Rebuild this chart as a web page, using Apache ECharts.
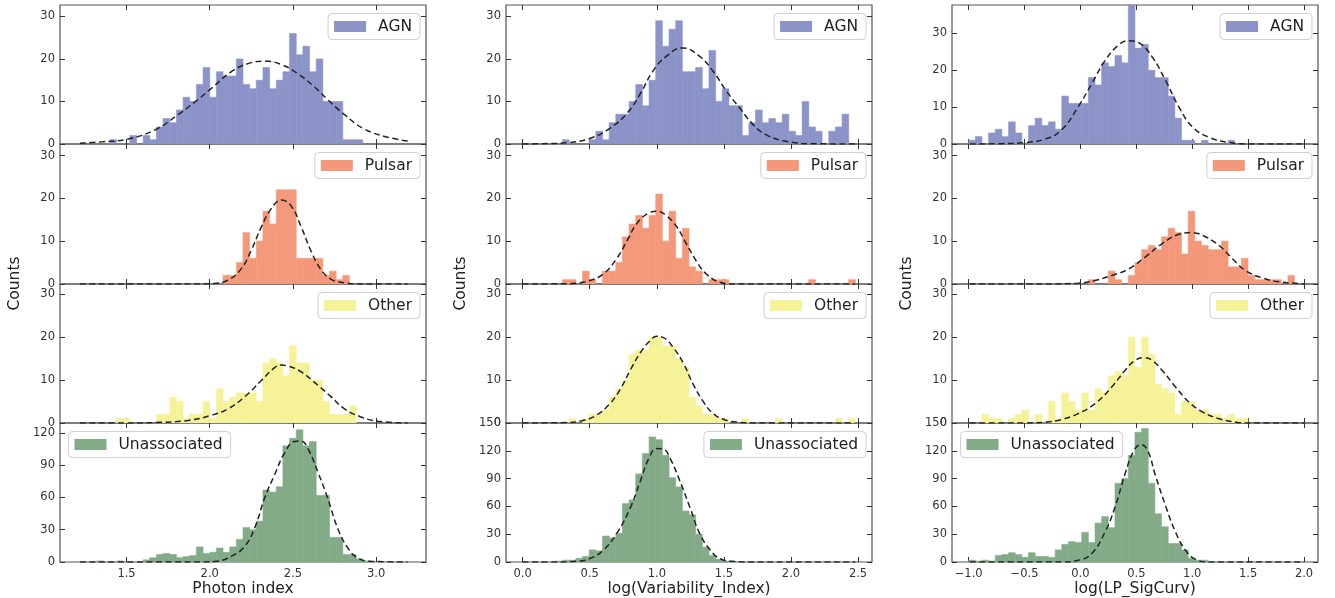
<!DOCTYPE html>
<html><head><meta charset="utf-8">
<script src="https://cdn.jsdelivr.net/npm/echarts@6/dist/echarts.min.js"></script>
<style>html,body{margin:0;padding:0;background:#fff}#c{width:1335px;height:598px}</style>
</head><body><div id="c"></div>
<script>
// ---------------- DATA ----------------
const classes = ['AGN', 'Pulsar', 'Other', 'Unassociated'];
const xNames = ['Photon index', 'log(Variability_Index)', 'log(LP_SigCurv)'];

// histogram bins (start, width; 50 bins each)
const photonBinStart = 1.2,  photonBinWidth = 0.04;
const varBinStart = 0.0,     varBinWidth = 0.0496;
const curvBinStart = -1.0,   curvBinWidth = 0.0595;

// tick labels
const photonTicks = [1.5, 2.0, 2.5, 3.0];
const varTicks = [0.0, 0.5, 1.0, 1.5, 2.0, 2.5];
const curvTicks = [-1.0, -0.5, 0.0, 0.5, 1.0, 1.5, 2.0];
const countTicksSmall = [0, 10, 20, 30];
const countTicks120 = [0, 30, 60, 90, 120];
const countTicks150 = [0, 30, 60, 90, 120, 150];

// counts per bin — Photon index
const photonAGN = [0,0,0,0,0,1,0,0,2,0, 2,1,4,6,5,8,11,10,14,18, 11,17,16,16,20,14,13,15,18,13, 15,17,26,21,23,17,20,10,10,10, 1,1,1,0,0,0,0,0,0,0];
const photonPulsar = [0,0,0,0,0,0,0,0,0,0, 0,0,0,0,0,0,0,0,0,0, 0,0,2,2,5,12,6,10,17,14, 22,22,22,6,6,6,6,2,3,1, 2,0,0,0,0,0,0,0,0,0];
const photonOther = [0,0,0,0,0,0,1,1,0,0, 0,0,2,2,6,5,1,2,2,5, 1,8,5,6,7,7,7,5,14,15, 14,11,18,14,14,10,10,5,2,2, 2,4,0,0,0,0,0,0,0,0];
const photonUnassoc = [0,0,0,1,0,0,1,0,0,0, 2,4,7,8,7,4,5,6,14,8, 9,13,9,14,21,32,30,38,67,65, 70,108,115,123,108,112,62,62,23,23, 7,7,3,1,0,0,0,0,0,0];

// counts per bin — log(Variability_Index)
const varAGN = [0,0,0,0,0,0,1,0,0,0, 1,3,1,5,7,7,10,14,9,15, 29,23,27,29,17,17,18,13,22,10, 13,9,9,2,5,8,5,6,5,7, 3,2,10,4,3,0,3,4,7,0];
const varPulsar = [0,0,0,0,0,0,1,1,0,3, 1,0,3,3,5,11,14,16,13,16, 21,10,17,6,13,4,3,0,1,1, 1,0,0,0,0,0,0,0,0,0, 0,0,0,1,0,0,0,0,0,1];
const varOther = [0,0,0,0,0,0,0,1,0,1, 2,2,3,6,8,10,16,17,17,20, 20,18,18,15,13,6,4,2,2,1, 1,0,0,1,0,0,0,0,1,0, 0,0,0,0,0,0,0,1,0,1];
const varUnassoc = [0,0,0,0,0,1,2,2,4,6, 13,12,28,26,31,63,67,95,117,135, 132,115,91,81,55,51,30,16,7,3, 1,0,0,0,0,0,0,0,0,0, 0,0,0,0,0,0,0,0,0,0];

// counts per bin — log(LP_SigCurv)
const curvAGN = [1,2,0,3,4,2,6,3,0,5, 7,5,6,4,13,11,11,11,18,16, 22,21,24,22,40,26,27,20,18,18, 13,7,1,1,0,1,0,0,0,1, 0,0,0,0,0,0,0,0,0,0];
const curvPulsar = [0,0,0,0,0,0,0,0,0,0, 0,0,0,0,0,0,0,0,1,0, 0,3,1,0,2,5,8,9,8,11, 13,12,7,17,10,9,8,8,10,4, 4,6,2,1,1,1,1,0,2,0];
const curvOther = [0,0,2,1,1,0,1,2,3,0, 2,0,5,1,7,5,3,7,3,8, 7,11,12,11,20,13,20,16,9,8, 7,2,5,5,3,3,2,2,1,2, 1,1,0,0,0,0,0,0,0,0];
const curvUnassoc = [2,1,2,1,7,8,10,8,5,10, 6,6,5,13,19,22,21,32,21,42, 49,37,85,90,115,140,144,85,52,38, 20,20,13,4,2,2,0,0,0,0, 0,0,0,0,0,0,0,0,0,0];

// Gaussian-fit curves, points
const photonAGNFit = [[1.22,0.2],[1.35,0.5],[1.5,1.1],[1.67,3.3],[1.81,6.9],[1.93,10.5],[2.01,13.1],[2.13,17.0],[2.23,18.9],[2.33,19.5],[2.43,18.7],[2.53,16.5],[2.63,13.4],[2.71,10.4],[2.81,6.9],[2.93,3.5],[3.07,1.6],[3.19,0.7]];
const photonPulsarFit = [[1.22,0],[1.9,0],[2.01,0.1],[2.11,0.9],[2.19,3.6],[2.25,7.9],[2.31,13.3],[2.37,17.6],[2.43,19.6],[2.49,18.2],[2.55,13.3],[2.61,7.6],[2.67,3.3],[2.73,1.1],[2.81,0.3],[2.9,0],[3.19,0]];
const photonOtherFit = [[1.22,0],[1.5,0],[1.7,0.15],[1.87,0.6],[2.01,1.8],[2.11,3.3],[2.21,6.1],[2.31,9.9],[2.39,12.9],[2.43,13.5],[2.47,13.3],[2.55,11.9],[2.65,8.8],[2.73,6.1],[2.81,3.3],[2.91,1.4],[3.01,0.4],[3.19,0]];
const photonUnassocFit = [[1.22,0],[1.9,0],[2.03,0.5],[2.13,5.3],[2.21,14.6],[2.27,31.6],[2.33,59.5],[2.39,81.2],[2.45,101.4],[2.51,112.2],[2.55,112.5],[2.59,105.4],[2.65,83.7],[2.71,58.9],[2.77,31.0],[2.83,13.0],[2.89,3.7],[2.97,0.6],[3.19,0]];

const varAGNFit = [[0,0],[0.2,0.1],[0.33,0.3],[0.50,1.3],[0.65,3.7],[0.78,7.3],[0.88,12.0],[0.97,17.1],[1.07,20.6],[1.19,22.6],[1.32,20.6],[1.42,17.1],[1.52,12.4],[1.62,8.4],[1.72,4.5],[1.82,2.1],[1.97,0.6],[2.19,0.05],[2.48,0]];
const varPulsarFit = [[0,0],[0.3,0.05],[0.40,0.2],[0.50,0.8],[0.60,2.3],[0.70,5.9],[0.78,10.2],[0.85,14.1],[0.93,16.4],[1.0,17.0],[1.07,16.0],[1.15,13.3],[1.22,9.4],[1.30,5.1],[1.37,2.3],[1.47,0.4],[1.57,0],[2.48,0]];
const varOtherFit = [[0,0],[0.33,0.1],[0.45,0.6],[0.55,1.8],[0.65,4.5],[0.73,8.0],[0.80,12.2],[0.88,16.5],[0.95,19.2],[1.0,20.2],[1.05,19.9],[1.12,17.7],[1.20,13.8],[1.27,9.1],[1.35,4.8],[1.42,2.2],[1.50,0.8],[1.60,0.2],[1.75,0],[2.48,0]];
const varUnassocFit = [[0,0],[0.3,0.1],[0.40,0.7],[0.50,3.6],[0.60,12.6],[0.70,30.6],[0.80,57.6],[0.875,86.4],[0.94,111.6],[1.0,122.4],[1.05,121.7],[1.10,111.6],[1.17,88.2],[1.25,57.6],[1.32,30.6],[1.40,12.6],[1.47,3.6],[1.57,0.7],[1.7,0],[2.48,0]];

const curvAGNFit = [[-0.99,0],[-0.7,0.1],[-0.49,0.4],[-0.32,1.3],[-0.17,3.8],[-0.02,10.1],[0.10,16.3],[0.22,22.6],[0.34,26.8],[0.43,28.0],[0.52,27.5],[0.64,23.7],[0.76,17.3],[0.88,10.1],[1.0,4.7],[1.15,1.8],[1.33,0.4],[1.48,0],[2.0,0]];
const curvPulsarFit = [[-0.99,0],[-0.3,0],[-0.02,0.2],[0.13,0.8],[0.28,2.0],[0.43,3.5],[0.58,6.3],[0.73,9.4],[0.88,11.6],[0.99,12.0],[1.09,11.4],[1.24,9.0],[1.36,5.9],[1.48,3.1],[1.63,1.4],[1.78,0.5],[1.96,0.1],[2.0,0]];
const curvOtherFit = [[-0.99,0],[-0.5,0],[-0.32,0.2],[-0.17,0.8],[-0.02,2.2],[0.13,4.5],[0.28,8.4],[0.40,12.3],[0.49,14.6],[0.57,15.2],[0.64,14.6],[0.73,12.3],[0.85,8.4],[0.97,4.9],[1.09,2.6],[1.24,1.0],[1.39,0.2],[1.51,0],[2.0,0]];
const curvUnassocFit = [[-0.99,0],[-0.17,0],[-0.02,1.8],[0.10,9.0],[0.22,32.4],[0.31,59.4],[0.40,95.4],[0.48,120.6],[0.54,126.8],[0.60,120.6],[0.67,93.6],[0.76,61.2],[0.85,32.4],[0.94,12.6],[1.03,2.9],[1.15,0],[2.0,0]];

// ---------------- BUILD ----------------
const classColors = ['#8b93c8', '#f4987a', '#f6f298', '#83ab88'];
const FONT = 'DejaVu Sans';

const columns = [
  { binStart: photonBinStart, binWidth: photonBinWidth, xmin: 1.1, xmax: 3.3, ticks: photonTicks,
    counts: [photonAGN, photonPulsar, photonOther, photonUnassoc],
    fits: [photonAGNFit, photonPulsarFit, photonOtherFit, photonUnassocFit],
    ymax: [32.7, 32.7, 32.4, 129.3], yticks: [countTicksSmall, countTicksSmall, countTicksSmall, countTicks120],
    lastLegendLeft: true },
  { binStart: varBinStart, binWidth: varBinWidth, xmin: -0.124, xmax: 2.604, ticks: varTicks,
    counts: [varAGN, varPulsar, varOther, varUnassoc],
    fits: [varAGNFit, varPulsarFit, varOtherFit, varUnassocFit],
    ymax: [32.7, 32.7, 32.4, 150], yticks: [countTicksSmall, countTicksSmall, countTicksSmall, countTicks150],
    lastLegendLeft: false },
  { binStart: curvBinStart, binWidth: curvBinWidth, xmin: -1.149, xmax: 2.125, ticks: curvTicks,
    counts: [curvAGN, curvPulsar, curvOther, curvUnassoc],
    fits: [curvAGNFit, curvPulsarFit, curvOtherFit, curvUnassocFit],
    ymax: [37.7, 32.7, 32.4, 150], yticks: [countTicksSmall, countTicksSmall, countTicksSmall, countTicks150],
    lastLegendLeft: true }
];

const W = 1335;
const colLeft = [60, 506, 952], colW = 366;
const rowTop = [5, 144, 284, 423], rowH = [139, 140, 139, 139];

function fmtX(v) { return (v < 0 ? '\u2212' : '') + Math.abs(v).toFixed(1); }

function renderBin(params, api) {
  const x0 = api.value(0), x1 = api.value(1), n = api.value(2);
  if (!n) return null;
  const a = api.coord([x0, 0]), b = api.coord([x1, n]);
  const color = api.visual('color');
  return { type: 'rect', shape: { x: a[0], y: b[1], width: b[0] - a[0], height: a[1] - b[1] },
           style: { fill: color, stroke: color, lineWidth: 0.6 } };
}

const grids = [], xAxes = [], yAxes = [], series = [], legends = [];
const tickStyle = { color: '#333', width: 1 };
const noLine = { show: false, onZero: false };

columns.forEach((col, ci) => {
  for (let ri = 0; ri < 4; ri++) {
    const gi = grids.length;
    grids.push({ left: colLeft[ci], top: rowTop[ri], width: colW, height: rowH[ri],
                 show: true, borderColor: '#555', borderWidth: 1.2, backgroundColor: 'transparent' });
    const bottom = ri === 3;
    const xi = xAxes.length;
    xAxes.push({ type: 'value', gridIndex: gi, min: col.xmin, max: col.xmax, position: 'bottom',
      axisLine: noLine, splitLine: { show: false },
      axisTick: { show: true, inside: true, length: 5, lineStyle: tickStyle, customValues: col.ticks },
      axisLabel: { show: bottom, customValues: col.ticks, formatter: fmtX, margin: 6,
                   fontSize: 11.5, color: '#333', fontFamily: FONT },
      name: bottom ? xNames[ci] : '', nameLocation: 'middle', nameGap: 16,
      nameTextStyle: { fontSize: 15.5, color: '#222', fontFamily: FONT } });
    xAxes.push({ type: 'value', gridIndex: gi, min: col.xmin, max: col.xmax, position: 'top',
      axisLine: noLine, splitLine: { show: false }, axisLabel: { show: false },
      axisTick: { show: true, inside: true, length: 5, lineStyle: tickStyle, customValues: col.ticks } });
    const yi = yAxes.length;
    yAxes.push({ type: 'value', gridIndex: gi, min: 0, max: col.ymax[ri], position: 'left',
      axisLine: noLine, splitLine: { show: false },
      axisTick: { show: true, inside: true, length: 5, lineStyle: tickStyle, customValues: col.yticks[ri] },
      axisLabel: { show: true, customValues: col.yticks[ri], margin: 5, fontSize: 11.5,
                   color: '#333', fontFamily: FONT } });
    yAxes.push({ type: 'value', gridIndex: gi, min: 0, max: col.ymax[ri], position: 'right',
      axisLine: noLine, splitLine: { show: false }, axisLabel: { show: false },
      axisTick: { show: true, inside: true, length: 5, lineStyle: tickStyle, customValues: col.yticks[ri] } });

    const counts = col.counts[ri];
    const bins = counts.map((n, k) => [col.binStart + k * col.binWidth, col.binStart + (k + 1) * col.binWidth, n]);
    series.push({ type: 'custom', name: classes[ri], xAxisIndex: xi, yAxisIndex: yi, data: bins,
      renderItem: renderBin, itemStyle: { color: classColors[ri] }, clip: true, z: 2, silent: true,
      encode: { x: [0, 1], y: 2 } });
    series.push({ type: 'line', xAxisIndex: xi, yAxisIndex: yi, data: col.fits[ri], smooth: 0.45,
      symbol: 'none', silent: true, z: 3,
      lineStyle: { color: '#222', width: 1.5, type: [6, 3.5] } });

    const leg = { data: [{ name: classes[ri], icon: 'rect' }], top: rowTop[ri] + 8.5, orient: 'horizontal',
      itemWidth: 32, itemHeight: 11, selectedMode: false, padding: [4, 8, 4, 6],
      borderColor: '#cfcfcf', borderWidth: 1, borderRadius: 4, backgroundColor: 'rgba(255,255,255,0.85)',
      textStyle: { fontSize: 15.5, fontFamily: FONT, color: '#222', padding: [0, 0, 0, 7], lineHeight: 18 } };
    if (bottom && col.lastLegendLeft) leg.left = colLeft[ci] + 8.5;
    else leg.right = W - (colLeft[ci] + colW) + 6;
    legends.push(leg);
  }
});

const graphics = colLeft.map(l => ({ type: 'text', x: l - 45, y: 283.5, rotation: Math.PI / 2,
  style: { text: 'Counts', fontSize: 15.5, fontFamily: FONT, fill: '#222', align: 'center', verticalAlign: 'middle' } }));

const chart = echarts.init(document.getElementById('c'), null, { renderer: 'canvas' });
chart.setOption({ animation: false, backgroundColor: '#fff', grid: grids, xAxis: xAxes, yAxis: yAxes,
  series: series, legend: legends, graphic: graphics });
</script></body></html>
